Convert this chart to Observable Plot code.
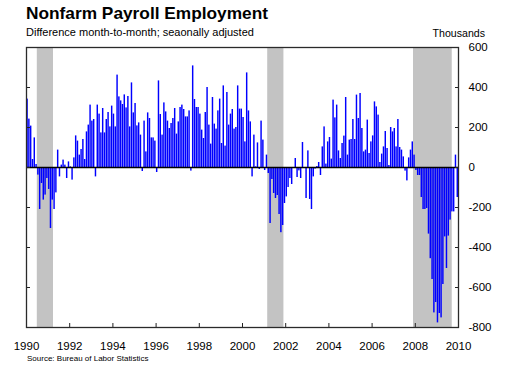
<!DOCTYPE html>
<html>
<head>
<meta charset="utf-8">
<script src="https://cdn.jsdelivr.net/npm/d3@7"></script>
<script src="https://cdn.jsdelivr.net/npm/@observablehq/plot@0.6"></script>
<style>
  html, body { margin: 0; padding: 0; background: #fff; }
  #wrap { position: relative; width: 510px; height: 365px; overflow: hidden; background: #fff;
          font-family: "Liberation Sans", Arial, sans-serif; color: #000; }
  .t { position: absolute; white-space: nowrap; }
</style>
</head>
<body>
<div id="wrap">
  <div class="t" style="left:26px; top:5.4px; font-weight:bold; font-size:17.3px; line-height:17.3px;">Nonfarm Payroll Employment</div>
  <div class="t" style="left:26px; top:27.4px; font-size:11px; line-height:11px;">Difference month-to-month; seaonally adjusted</div>
  <div class="t" style="right:25px; top:27.6px; font-size:10.6px; line-height:10.6px;">Thousands</div>
  <div id="chart" style="position:absolute; left:0; top:40px;"></div>
  <div class="t" style="left:27px; top:355.2px; font-size:8px; line-height:8px;">Source: Bureau of Labor Statistics</div>
</div>
<script>
const startYear = 1990;
// Monthly change in nonfarm payrolls, thousands, Jan 1990 – Dec 2009
const monthlyChange = [
  342, 242, 207, 40, 148, 15, -38, -210, -80, -163, -138, -55,      // 1990
  -110, -305, -163, -210, -127, 87, -47, 12, 37, 12, -55, 28,       // 1991
  3, -63, 48, 158, 132, 62, 90, 140, 40, 178, 212, 312,             // 1992
  232, 240, -47, 312, 267, 173, 295, 173, 240, 275, 203, 307,       // 1993
  267, 203, 462, 353, 333, 315, 363, 298, 355, 203, 423, 273,       // 1994
  320, 208, 223, 162, -20, 232, 78, 273, 245, 148, 148, 132,        // 1995
  -25, 433, 265, 162, 323, 278, 232, 195, 220, 245, 295, 167,       // 1996
  228, 300, 312, 290, 253, 253, 283, -18, 508, 340, 300, 300,       // 1997
  267, 187, 145, 275, 400, 212, 117, 350, 217, 192, 283, 342,       // 1998
  120, 408, 107, 375, 212, 267, 290, 192, 200, 408, 292, 292,       // 1999
  250, 128, 473, 283, 228, -47, 162, 3, 123, -10, 232, 137,         // 2000
  -15, 62, -30, -280, -60, -130, -155, -140, -235, -326, -290, -180, // 2001
  -147, -100, -55, -85, -5, 45, -50, -17, -55, 125, -5, -155,       // 2002
  83, -160, -210, -47, -8, 5, 25, -40, 103, 203, 17, 128,           // 2003
  150, 42, 337, 248, 312, 83, 45, 120, 157, 350, 62, 137,           // 2004
  140, 240, 140, 362, 245, 370, 195, 78, 87, 237, 70, 128,          // 2005
  158, 328, 303, 262, 25, 67, 103, 180, 95, 10, 200, 178,           // 2006
  195, 103, 240, 100, 87, 53, -18, -67, 48, 87, 128, 62,            // 2007
  -15, -40, -40, -150, -210, -210, -205, -333, -456, -560, -727, -675, // 2008
  -777, -730, -752, -585, -347, -505, -343, -263, -222, -222, 62, -150  // 2009
];
const recessionStart = [1990.5, 2001.167, 2007.917];
const recessionEnd = [1991.25, 2001.917, 2009.71];
const xTicks = [1990, 1992, 1994, 1996, 1998, 2000, 2002, 2004, 2006, 2008, 2010];
const yTicks = [-800, -600, -400, -200, 0, 200, 400, 600];

const bars = monthlyChange.map((v, i) => ({t: startYear + i / 12, v}));
const recessions = recessionStart.map((s, i) => ({start: s, end: recessionEnd[i]}));

const chart = Plot.plot({
  width: 510,
  height: 325,
  marginLeft: 26,
  marginRight: 52,
  marginTop: 7,
  marginBottom: 38,
  x: {type: "linear", domain: [1990, 2010], label: null},
  y: {domain: [-800, 600], label: null},
  style: {fontFamily: "Liberation Sans, Arial, sans-serif", fontSize: "11.5px", color: "#000", background: "white"},
  marks: [
    Plot.rect(recessions, {x1: "start", x2: "end", fill: "#c3c3c3"}),
    Plot.rect(bars, {x1: d => d.t, x2: d => d.t + 1 / 12, y1: () => 0, y2: "v", fill: "#0000ff", insetLeft: 0.35, insetRight: 0}),
    Plot.ruleY([0], {stroke: "#000", strokeWidth: 1.6}),
    Plot.axisX({anchor: "bottom", ticks: xTicks, tickSize: -4, fill: "none", stroke: "#222"}),
    Plot.axisX({anchor: "bottom", ticks: xTicks, tickSize: 0, tickPadding: 14, tickFormat: d => String(d)}),
    Plot.axisY({anchor: "left", ticks: yTicks, tickSize: -4, fill: "none", stroke: "#222"}),
    Plot.axisY({anchor: "right", ticks: yTicks, tickSize: -4, fill: "none", stroke: "#222"}),
    Plot.axisY({anchor: "right", ticks: yTicks, tickSize: 0, tickPadding: 10, textAnchor: "start", tickFormat: d => String(d)}),
    Plot.frame({stroke: "#2a2a2a", strokeWidth: 1.3})
  ]
});
document.getElementById("chart").appendChild(chart);
</script>
</body>
</html>
